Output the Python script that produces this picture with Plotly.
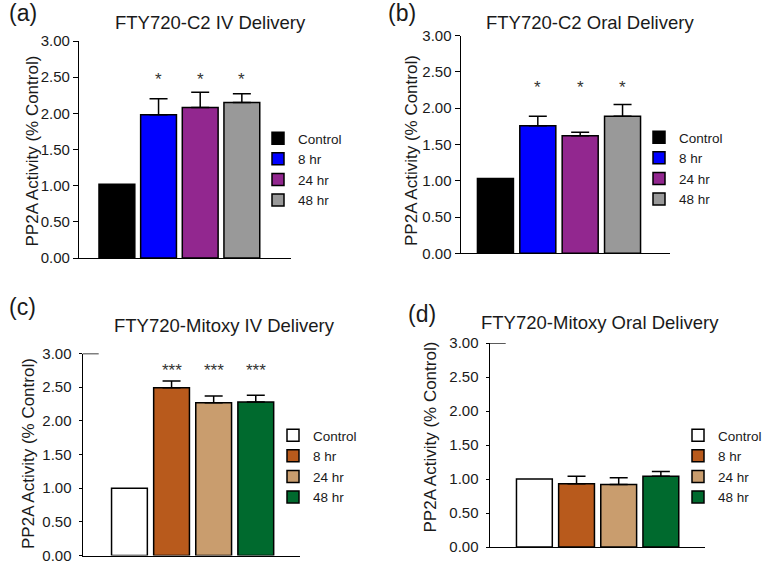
import plotly.graph_objects as go

W, H = 766, 564

# ---------------- data ----------------
groups = ["Control", "8 hr", "24 hr", "48 hr"]
panel_titles = ["FTY720-C2 IV Delivery", "FTY720-C2 Oral Delivery",
                "FTY720-Mitoxy IV Delivery", "FTY720-Mitoxy Oral Delivery"]
panel_labels = ["(a)", "(b)", "(c)", "(d)"]
y_title = "PP2A Activity (% Control)"
y_ticks = [0.0, 0.5, 1.0, 1.5, 2.0, 2.5, 3.0]

c2_iv_mean = [1.02, 1.98, 2.08, 2.15]
c2_iv_sem = [0.0, 0.22, 0.21, 0.12]
c2_iv_sig = ["", "*", "*", "*"]

c2_oral_mean = [1.03, 1.76, 1.62, 1.89]
c2_oral_sem = [0.0, 0.13, 0.05, 0.16]
c2_oral_sig = ["", "*", "*", "*"]

mitoxy_iv_mean = [1.00, 2.49, 2.27, 2.28]
mitoxy_iv_sem = [0.0, 0.10, 0.10, 0.10]
mitoxy_iv_sig = ["", "***", "***", "***"]

mitoxy_oral_mean = [1.00, 0.93, 0.92, 1.04]
mitoxy_oral_sem = [0.0, 0.11, 0.10, 0.07]
mitoxy_oral_sig = ["", "", "", ""]

# ---------------- styles ----------------
c2_colors = ["#000000", "#0000FF", "#92278F", "#999999"]
mitoxy_colors = ["#FFFFFF", "#B85A1C", "#C99D6E", "#006A2E"]
FONT = "Liberation Sans, Arial, sans-serif"
TXT = "#1a1a1a"

panels = [
    dict(mean=c2_iv_mean, sem=c2_iv_sem, sig=c2_iv_sig, colors=c2_colors, star_y=2.47,
         x0=79, x1=291, ytop=41, ybot=258, xr=[-0.91, 4.18], bw=0.86, tl=5, tls=0,
         leg=(258, 123), tpos=(210, 22), lpos=(7, 13), ytpos=(32, 151.5), topline=False),
    dict(mean=c2_oral_mean, sem=c2_oral_sem, sig=c2_oral_sig, colors=c2_colors, star_y=2.29,
         x0=460.7, x1=670, ytop=35.7, ybot=253.3, xr=[-0.82, 4.12], bw=0.85, tl=5, tls=0,
         leg=(639, 122), tpos=(590, 22), lpos=(386, 13), ytpos=(411, 150), topline=False),
    dict(mean=mitoxy_iv_mean, sem=mitoxy_iv_sem, sig=mitoxy_iv_sig, colors=mitoxy_colors, star_y=2.75,
         x0=82.7, x1=300, ytop=353.5, ybot=555.5, xr=[-1.11, 4.05], bw=0.85, tl=3, tls=4,
         leg=(273, 420), tpos=(224, 325), lpos=(7, 307), ytpos=(28, 454), topline=True),
    dict(mean=mitoxy_oral_mean, sem=mitoxy_oral_sem, sig=mitoxy_oral_sig, colors=mitoxy_colors, star_y=None,
         x0=489.7, x1=704.7, ytop=343, ybot=547, xr=[-1.06, 4.04], bw=0.85, tl=3, tls=4,
         leg=(678, 420), tpos=(600, 322), lpos=(406, 314), ytpos=(430, 437.5), topline=True),
]

fig = go.Figure()
annotations = []
shapes = []
layout = {}

for k, p in enumerate(panels):
    sfx = "" if k == 0 else str(k + 1)
    xa, ya = "x" + sfx, "y" + sfx
    legname = "legend" + sfx
    for i, g in enumerate(groups):
        fig.add_trace(go.Bar(
            x=[i], y=[p["mean"][i]], width=p["bw"], name=g,
            marker=dict(color=p["colors"][i], line=dict(color="black", width=1.5)),
            error_y=dict(type="data", symmetric=False, array=[p["sem"][i]], arrayminus=[0],
                         width=9, thickness=1.5, color="black", visible=p["sem"][i] > 0),
            xaxis=xa, yaxis=ya, legend=legname, showlegend=True,
        ))
    for i, s in enumerate(p["sig"]):
        if s:
            annotations.append(dict(x=i, y=p["star_y"], xref=xa, yref=ya, text=s, showarrow=False,
                                    font=dict(size=17, color="#333"), yanchor="middle"))
    layout["xaxis" + sfx] = dict(
        domain=[p["x0"] / W, p["x1"] / W], anchor=ya, range=p["xr"],
        showline=True, linecolor="black", linewidth=1.3, showticklabels=False,
        ticks="", showgrid=False, zeroline=False, fixedrange=True, automargin=False)
    layout["yaxis" + sfx] = dict(
        domain=[1 - p["ybot"] / H, 1 - p["ytop"] / H], anchor=xa, range=[0, 3],
        tickvals=y_ticks, tickformat=".2f", ticks="outside", ticklen=p["tl"],
        ticklabelstandoff=p["tls"], ticklabeloverflow="allow",
        tickwidth=1.3, tickcolor="black", showline=True, linecolor="black", linewidth=1.3,
        showgrid=False, zeroline=False, fixedrange=True, automargin=False,
        tickfont=dict(size=15, color=TXT))
    layout[legname] = dict(
        x=p["leg"][0] / W, y=1 - p["leg"][1] / H, xanchor="left", yanchor="top",
        bgcolor="rgba(0,0,0,0)", font=dict(size=13.5, color=TXT), itemwidth=30,
        tracegroupgap=0, traceorder="normal")
    # y-axis title
    annotations.append(dict(x=p["ytpos"][0] / W, y=1 - p["ytpos"][1] / H, xref="paper", yref="paper",
                            text=y_title, textangle=-90, showarrow=False,
                            xanchor="center", yanchor="middle", font=dict(size=17, color=TXT)))
    annotations.append(dict(x=p["tpos"][0] / W, y=1 - p["tpos"][1] / H, xref="paper", yref="paper",
                            text=panel_titles[k], showarrow=False, xanchor="center", yanchor="middle",
                            font=dict(size=18.5, color=TXT)))
    annotations.append(dict(x=p["lpos"][0] / W, y=1 - p["lpos"][1] / H, xref="paper", yref="paper",
                            text=panel_labels[k], showarrow=False, xanchor="left", yanchor="middle",
                            font=dict(size=23, color=TXT)))
    if p["topline"]:
        shapes.append(dict(type="line", xref=xa + " domain", yref=ya, x0=0,
                           x1=16 / (p["x1"] - p["x0"]), y0=3, y1=3,
                           line=dict(color="black", width=1.3)))

fig.update_layout(
    width=W, height=H, autosize=False,
    margin=dict(l=0, r=0, t=0, b=0, pad=0, autoexpand=False),
    paper_bgcolor="white", plot_bgcolor="white",
    font=dict(family=FONT, color=TXT),
    barmode="overlay",
    annotations=annotations, shapes=shapes,
    **layout,
)

fig.write_html("out.html", config={"displayModeBar": False},
               post_script="document.body.style.margin='0';")
